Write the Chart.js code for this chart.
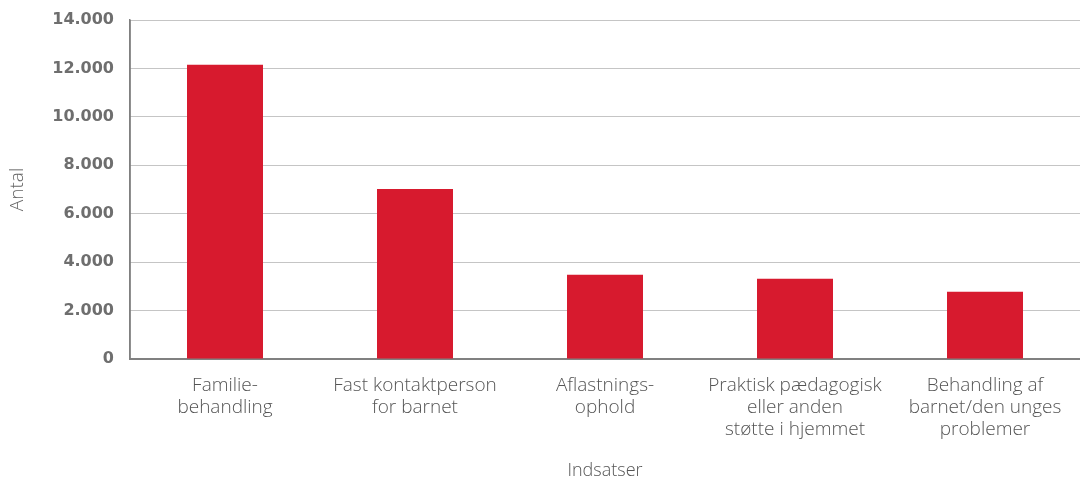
<!DOCTYPE html>
<html>
<head>
<meta charset="utf-8">
<script src="https://cdn.jsdelivr.net/npm/chart.js@4/dist/chart.umd.min.js"></script>
<style>
  html, body { margin: 0; padding: 0; background: #fff; }
  #wrap { width: 1080px; height: 482px; position: relative; }
</style>
</head>
<body>
<div id="wrap"><canvas id="chart"></canvas></div>
<script>
const categories = [
  ['Familie-', 'behandling'],
  ['Fast kontaktperson', 'for barnet'],
  ['Aflastnings-', 'ophold'],
  ['Praktisk pædagogisk', 'eller anden', 'støtte i hjemmet'],
  ['Behandling af', 'barnet/den unges', 'problemer']
];
const values = [12150, 7020, 3480, 3310, 2780];
const yTicks = [0, 2000, 4000, 6000, 8000, 10000, 12000, 14000];

const RED = '#d71a2e';
const GREY = '#6e6e6e';

// tick labels use Danish thousand separator
function fmt(v) {
  return v.toLocaleString('da-DK');
}

const ctx = document.getElementById('chart').getContext('2d');
new Chart(ctx, {
  type: 'bar',
  data: {
    labels: categories,
    datasets: [{
      data: values,
      backgroundColor: RED,
      borderWidth: 0,
      categoryPercentage: 1,
      barPercentage: 0.4
    }]
  },
  options: {
    responsive: true,
    maintainAspectRatio: false,
    animation: false,
    layout: { padding: { top: 20, right: 0, left: 6, bottom: 0 } },
    plugins: {
      legend: { display: false },
      tooltip: { enabled: false }
    },
    scales: {
      x: {
        afterFit: (axis) => { axis.height = 123; axis.paddingLeft = 0; axis.paddingRight = 0; },
        grid: { display: false },
        border: { color: '#808080', width: 2 },
        ticks: {
          color: '#555',
          font: { family: 'Open Sans', weight: '300', size: 19, lineHeight: 1.15 },
          padding: 8,
          maxRotation: 0,
          autoSkip: false
        },
        title: {
          display: true,
          text: 'Indsatser',
          color: '#555',
          font: { family: 'Open Sans', weight: '300', size: 18 },
          padding: { top: 0, bottom: 0 }
        }
      },
      y: {
        min: 0,
        max: 14000,
        afterBuildTicks: (axis) => { axis.ticks = yTicks.map(v => ({ value: v })); },
        afterFit: (axis) => { axis.width = 124; axis.paddingTop = 0; axis.paddingBottom = 0; },
        grid: {
          color: '#8a8a8a',
          lineWidth: 1,
          drawTicks: false
        },
        border: { color: '#808080', width: 1.5, dash: [1, 1] },
        ticks: {
          color: GREY,
          font: { family: 'DejaVu Sans', weight: 'bold', size: 16 },
          padding: 16,
          callback: (v) => fmt(v)
        },
        title: {
          display: true,
          text: 'Antal',
          color: '#666',
          font: { family: 'Open Sans', weight: '300', size: 19 },
          padding: { top: 0, bottom: 0 }
        }
      }
    }
  },
  plugins: [{
    // solid left axis line (border dash applies to gridlines only)
    id: 'leftAxis',
    afterDraw(chart) {
      const a = chart.chartArea;
      const c = chart.ctx;
      c.save();
      c.strokeStyle = '#808080';
      c.lineWidth = 1.5;
      c.beginPath();
      c.moveTo(a.left, a.top);
      c.lineTo(a.left, a.bottom);
      c.stroke();
      c.restore();
    }
  }]
});
</script>
</body>
</html>
